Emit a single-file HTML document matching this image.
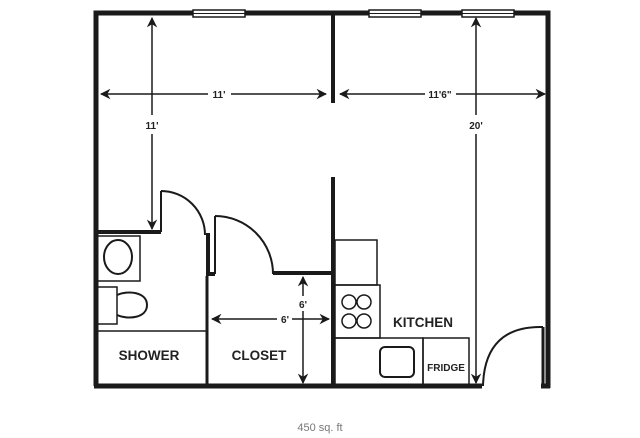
<!DOCTYPE html>
<html><head><meta charset="utf-8"><style>
html,body{margin:0;padding:0;background:#fff;}
svg{display:block}
text{font-family:"Liberation Sans",sans-serif;font-weight:bold;fill:#222}
</style></head><body>
<svg width="640" height="438" viewBox="0 0 640 438" xmlns="http://www.w3.org/2000/svg">
<defs>
<marker id="a" viewBox="0 0 10 10" refX="9" refY="5" markerWidth="7" markerHeight="7" orient="auto-start-reverse"><path d="M0,0 L10,5 L0,10 L3,5 z" fill="#1a1a1a"/></marker>
</defs>
<g stroke="#1a1a1a" fill="none">
<!-- outer walls -->
<path d="M96,386 V13 H548 V388" stroke-width="5"/>
<path d="M94,386 H482" stroke-width="5"/>
<path d="M541,386 H550" stroke-width="5"/>
<!-- windows -->
<rect x="193" y="10" width="52" height="7" fill="#fff" stroke-width="1.5"/><line x1="193" y1="13.5" x2="245" y2="13.5" stroke-width="1"/>
<rect x="369" y="10" width="52" height="7" fill="#fff" stroke-width="1.5"/><line x1="369" y1="13.5" x2="421" y2="13.5" stroke-width="1"/>
<rect x="462" y="10" width="52" height="7" fill="#fff" stroke-width="1.5"/><line x1="462" y1="13.5" x2="514" y2="13.5" stroke-width="1"/>
<!-- middle wall -->
<line x1="333" y1="13" x2="333" y2="103" stroke-width="4"/>
<line x1="333" y1="177" x2="333" y2="386" stroke-width="4"/>
<!-- bedroom bottom wall -->
<line x1="96" y1="232" x2="161" y2="232" stroke-width="4"/>
<!-- bathroom door -->
<line x1="161" y1="191" x2="161" y2="232" stroke-width="2"/>
<path d="M161,191 A44,44 0 0 1 205,235" stroke-width="2"/>
<line x1="208" y1="233" x2="208" y2="276" stroke-width="4"/>
<line x1="207" y1="276" x2="207" y2="386" stroke-width="3"/>
<line x1="208" y1="274" x2="215" y2="274" stroke-width="4"/>
<!-- closet door -->
<line x1="215" y1="216" x2="215" y2="274" stroke-width="2"/>
<path d="M215,216 A58,58 0 0 1 273,274" stroke-width="2"/>
<line x1="273" y1="273" x2="333" y2="273" stroke-width="4"/>
<!-- bathroom fixtures -->
<rect x="97" y="236" width="43" height="45" stroke-width="1.5"/>
<ellipse cx="118" cy="257" rx="14" ry="17" stroke-width="2"/>
<rect x="97" y="287" width="20" height="37" stroke-width="1.5"/>
<path d="M117,295 C128,290 147,292 147,305 C147,318 128,320 117,315" stroke-width="2"/>
<line x1="97" y1="331" x2="206" y2="331" stroke-width="1.5"/>
<!-- kitchen -->
<rect x="335" y="240" width="42" height="45" stroke-width="1.5"/>
<rect x="335" y="285" width="45" height="53" stroke-width="1.5"/>
<circle cx="349" cy="302" r="7" stroke-width="1.5"/><circle cx="364" cy="302" r="7" stroke-width="1.5"/>
<circle cx="349" cy="321" r="7" stroke-width="1.5"/><circle cx="364" cy="321" r="7" stroke-width="1.5"/>
<rect x="335" y="338" width="88" height="47" stroke-width="1.5"/>
<rect x="380" y="347" width="34" height="30" rx="5" stroke-width="2"/>
<rect x="423" y="338" width="46" height="47" stroke-width="1.5"/>
<!-- kitchen door -->
<line x1="543" y1="327" x2="543" y2="387" stroke-width="3"/>
<path d="M543,327 C505,326 484,345 483,386" stroke-width="2"/>
<!-- dimension lines -->
<g stroke-width="1.5">
<line x1="101" y1="94" x2="208" y2="94" marker-start="url(#a)"/><line x1="231" y1="94" x2="326" y2="94" marker-end="url(#a)"/>
<line x1="340" y1="94" x2="425" y2="94" marker-start="url(#a)"/><line x1="456" y1="94" x2="545" y2="94" marker-end="url(#a)"/>
<line x1="152" y1="18" x2="152" y2="115" marker-start="url(#a)"/><line x1="152" y1="134" x2="152" y2="229" marker-end="url(#a)"/>
<line x1="476" y1="18" x2="476" y2="115" marker-start="url(#a)"/><line x1="476" y1="134" x2="476" y2="383" marker-end="url(#a)"/>
<line x1="212" y1="319" x2="277" y2="319" marker-start="url(#a)"/><line x1="292" y1="319" x2="329" y2="319" marker-end="url(#a)"/>
<line x1="303" y1="277" x2="303" y2="296" marker-start="url(#a)"/><line x1="303" y1="311" x2="303" y2="383" marker-end="url(#a)"/>
</g>
</g>
<text x="219" y="98" font-size="10" text-anchor="middle">11'</text>
<text x="440" y="98" font-size="10" text-anchor="middle">11'6"</text>
<text x="152" y="129" font-size="10" text-anchor="middle">11'</text>
<text x="476" y="129" font-size="10" text-anchor="middle">20'</text>
<text x="303" y="308" font-size="10" text-anchor="middle">6'</text>
<text x="285" y="323" font-size="10" text-anchor="middle">6'</text>
<text x="149" y="360" font-size="13.5" text-anchor="middle">SHOWER</text>
<text x="259" y="360" font-size="13.5" text-anchor="middle">CLOSET</text>
<text x="423" y="327" font-size="13.5" text-anchor="middle">KITCHEN</text>
<text x="446" y="371" font-size="10" text-anchor="middle">FRIDGE</text>
<text x="320" y="431" font-size="11" text-anchor="middle" style="font-weight:normal;fill:#777">450 sq. ft</text>
</svg>
</body></html>
